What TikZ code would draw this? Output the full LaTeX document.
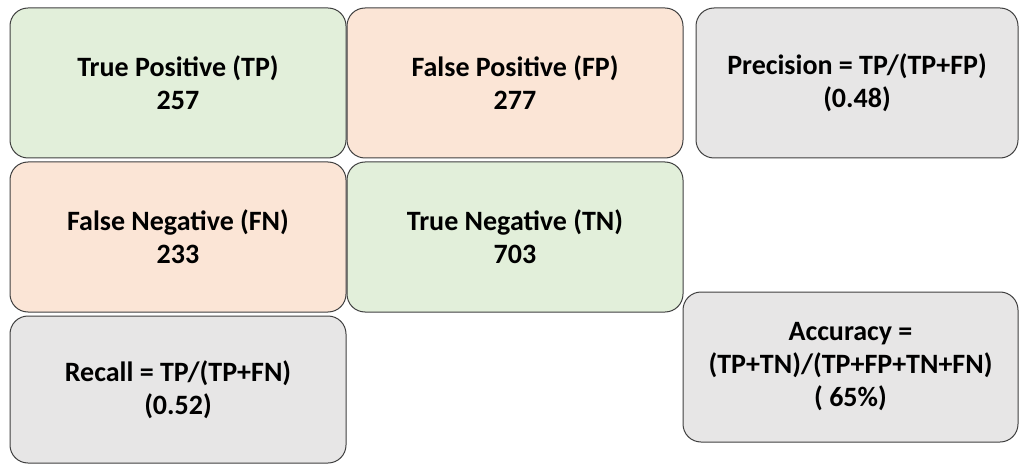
\documentclass[tikz,border=0pt]{standalone}
\usepackage{fontspec}
\setmainfont{Carlito}
\usepackage{tikz}

\definecolor{cellgreen}{HTML}{E2EFDA}
\definecolor{cellorange}{HTML}{FBE5D6}
\definecolor{cellgrey}{HTML}{E7E6E6}

\tikzset{
    cell/.style={draw=black!75,line width=1pt,rounded corners=18pt,
        minimum width=336pt,minimum height=150pt,inner sep=0pt,
        align=center,font=\fontsize{28}{33}\selectfont\bfseries},
    goodcell/.style={cell,fill=cellgreen},
    badcell/.style={cell,fill=cellorange},
    metriccell/.style={cell,fill=cellgrey}
}

\begin{document}
\begin{tikzpicture}[x=1pt,y=-1pt]
        \useasboundingbox (0,0) rectangle (1019,465);
        \node[goodcell] (tp) at (178,83) {True Positive (TP)\\257};
        \node[badcell] (fp) at (515,83) {False Positive (FP)\\277};
        \node[metriccell,minimum width=322pt] (prec) at (857,83) {Precision = TP/(TP+FP)\\(0.48)};
        \node[badcell] (fn) at (178,237) {False Negative (FN)\\233};
        \node[goodcell] (tn) at (515,237) {True Negative (TN)\\703};
        \node[metriccell,minimum height=147pt] (rec) at (178,389.5) {Recall = TP/(TP+FN)\\(0.52)};
        \node[metriccell,minimum width=335pt] (acc) at (850.5,367) {Accuracy =\\(TP+TN)/(TP+FP+TN+FN)\\( 65\%)};
    \end{tikzpicture}
\end{document}
